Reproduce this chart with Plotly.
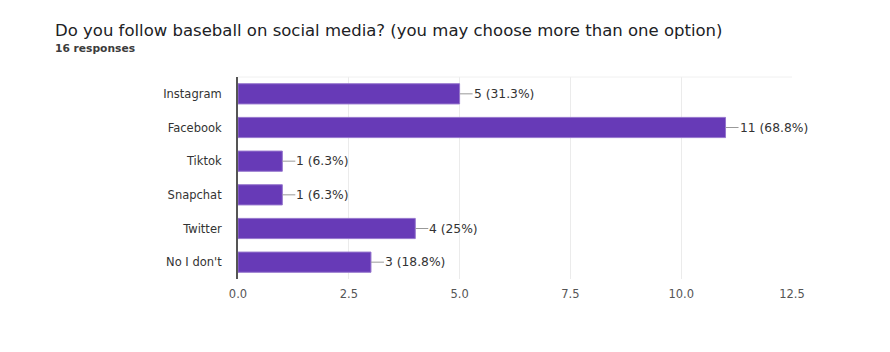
import plotly.graph_objects as go

categories = ["Instagram", "Facebook", "Tiktok", "Snapchat", "Twitter", "No I don't"]
values = [5, 11, 1, 1, 4, 3]
labels = ["5 (31.3%)", "11 (68.8%)", "1 (6.3%)", "1 (6.3%)", "4 (25%)", "3 (18.8%)"]
tick_vals = [0, 2.5, 5, 7.5, 10, 12.5]
tick_text = ["0.0", "2.5", "5.0", "7.5", "10.0", "12.5"]

FONT = "DejaVu Sans, Verdana, sans-serif"

fig = go.Figure()
fig.add_trace(go.Bar(
    x=values, y=categories, orientation="h",
    marker=dict(color="#673ab7", line=dict(color="#9575cd", width=1)),
    width=0.6, hoverinfo="skip",
))

for c, v, t in zip(categories, values, labels):
    fig.add_annotation(
        x=v, y=c, xref="x", yref="y", text=t, showarrow=True,
        arrowhead=0, arrowwidth=1, arrowcolor="#999999",
        ax=13, ay=0, xanchor="left", yanchor="middle", standoff=0,
        font=dict(family=FONT, size=12.3, color="#333333"),
        borderpad=0,
    )

fig.update_layout(
    width=890, height=352,
    margin=dict(l=238, r=98, t=77, b=73),
    paper_bgcolor="white", plot_bgcolor="white",
    showlegend=False,
    bargap=0.4,
    font=dict(family=FONT, size=11.5, color="#333333"),
    xaxis=dict(
        range=[0, 12.5], tickvals=tick_vals, ticktext=tick_text,
        showgrid=True, gridcolor="#ebebeb", gridwidth=1,
        zeroline=False, showline=False, ticks="", ticklen=0,
        ticklabelstandoff=6,
        tickfont=dict(family=FONT, size=11.5, color="#555555"),
        fixedrange=True,
    ),
    yaxis=dict(
        autorange="reversed", showline=True, linecolor="#555555", linewidth=2,
        ticks="", ticklabelstandoff=12,
        tickfont=dict(family=FONT, size=11.5, color="#333333"),
        fixedrange=True,
    ),
    shapes=[dict(type="line", xref="paper", yref="paper", x0=0, x1=1, y0=1, y1=1,
                 line=dict(color="#f0f0f0", width=1))],
)

fig.add_annotation(
    text="Do you follow baseball on social media? (you may choose more than one option)",
    xref="paper", yref="paper", x=-185/554, y=1 + (77 - 30) / 202,
    xanchor="left", yanchor="middle", showarrow=False,
    font=dict(family=FONT, size=16.5, color="#202124"),
)
fig.add_annotation(
    text="<b>16 responses</b>",
    xref="paper", yref="paper", x=-185/554, y=1 + (77 - 49) / 202,
    xanchor="left", yanchor="middle", showarrow=False,
    font=dict(family=FONT, size=10.7, color="#3c3c3c"),
)

fig.write_html("out.html")
